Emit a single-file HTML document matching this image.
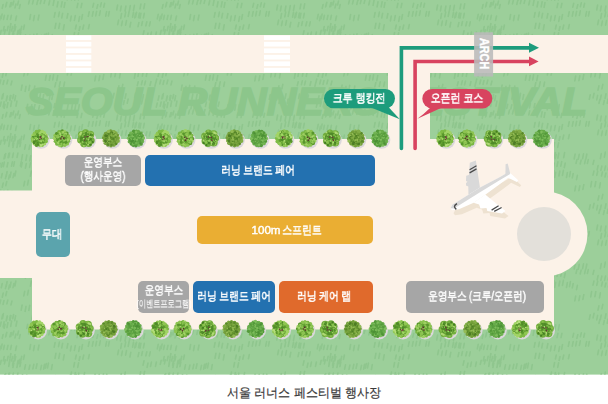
<!DOCTYPE html>
<html><head><meta charset="utf-8">
<style>
html,body{margin:0;padding:0;}
body{width:608px;height:404px;position:relative;overflow:hidden;background:#fff;font-family:"Liberation Sans",sans-serif;}
.a{position:absolute;}
.box{position:absolute;border-radius:5px;}
.t{position:absolute;color:#fff;font-weight:normal;font-size:12px;line-height:14px;white-space:nowrap;text-align:center;transform-origin:50% 50%;-webkit-font-smoothing:antialiased;will-change:transform;-webkit-text-stroke:0.55px #fff;}
.gray{background:#a6a6a6;}
.blue{background:#2371b0;}
</style></head>
<body>
<svg class="a" style="left:0;top:0" width="608" height="404" viewBox="0 0 608 404">
  <defs>
    <pattern id="grass" x="0" y="0" width="160" height="110" patternUnits="userSpaceOnUse"><path d="M6.5 3.0l-0.9 3.9M6.5 113.0l-0.9 3.9M10.8 2.9l-0.9 3.9M10.8 112.9l-0.9 3.9M13.8 1.1l-0.9 3.9M13.8 111.1l-0.9 3.9M18.5 1.1l-0.9 3.9M18.5 111.1l-0.9 3.9M29.5 -0.0l-0.9 3.9M29.5 110.0l-0.9 3.9M33.4 0.0l-0.9 3.9M33.4 110.0l-0.9 3.9M37.7 0.6l-0.9 3.9M37.7 110.6l-0.9 3.9M41.2 -0.3l-0.9 3.9M41.2 109.7l-0.9 3.9M45.0 -0.5l-0.9 3.9M45.0 109.5l-0.9 3.9M49.7 0.9l-0.9 3.9M49.7 110.9l-0.9 3.9M54.0 0.5l-0.9 4.9M54.0 110.5l-0.9 4.9M58.0 1.9l-0.9 4.9M58.0 111.9l-0.9 4.9M62.1 1.9l-0.9 4.9M62.1 111.9l-0.9 4.9M65.0 2.5l-0.9 4.9M65.0 112.5l-0.9 4.9M77.9 3.3l-0.9 4.3M77.9 113.3l-0.9 4.3M81.9 3.3l-0.9 4.3M81.9 113.3l-0.9 4.3M93.7 3.3l-0.9 3.8M93.7 113.3l-0.9 3.8M97.8 4.6l-0.9 3.8M97.8 114.6l-0.9 3.8M101.3 2.9l-0.9 3.8M101.3 112.9l-0.9 3.8M104.6 3.4l-0.9 3.8M104.6 113.4l-0.9 3.8M117.6 5.1l-0.9 4.9M117.6 115.1l-0.9 4.9M121.3 6.0l-0.9 4.9M121.3 116.0l-0.9 4.9M125.9 6.1l-0.9 4.9M130.3 5.6l-0.9 4.9M130.3 115.6l-0.9 4.9M134.4 5.4l-0.9 4.9M134.4 115.4l-0.9 4.9M140.9 4.0l-0.9 4.9M140.9 114.0l-0.9 4.9M144.7 3.8l-0.9 4.9M144.7 113.8l-0.9 4.9M163.1 4.5l-0.9 3.9M163.1 114.5l-0.9 3.9M3.1 4.5l-0.9 3.9M3.1 114.5l-0.9 3.9M6.8 2.4l-0.9 3.9M6.8 112.4l-0.9 3.9M11.6 2.6l-0.9 3.9M11.6 112.6l-0.9 3.9M15.9 4.0l-0.9 3.9M15.9 114.0l-0.9 3.9M20.2 4.6l-0.9 3.9M20.2 114.6l-0.9 3.9M0.4 16.4l-0.9 4.2M160.4 16.4l-0.9 4.2M4.4 15.3l-0.9 4.2M164.4 15.3l-0.9 4.2M8.0 15.3l-0.9 4.2M11.4 15.3l-0.9 4.2M16.5 16.1l-0.9 4.2M30.6 14.5l-0.9 5.0M34.4 15.6l-0.9 5.0M39.0 15.0l-0.9 5.0M55.1 12.5l-0.9 4.6M59.4 12.1l-0.9 4.6M62.6 13.4l-0.9 4.6M67.9 13.5l-0.9 4.6M71.3 16.0l-0.9 4.8M75.3 15.6l-0.9 4.8M79.6 16.6l-0.9 4.8M82.5 14.6l-0.9 4.8M89.2 11.9l-0.9 4.5M93.2 11.7l-0.9 4.5M96.6 11.4l-0.9 4.5M100.3 10.9l-0.9 4.5M106.6 11.7l-0.9 4.5M109.3 11.5l-0.9 4.5M121.6 13.5l-0.9 4.8M125.7 12.1l-0.9 4.8M129.1 11.5l-0.9 4.8M133.5 12.3l-0.9 4.8M136.5 12.3l-0.9 4.8M140.9 13.3l-0.9 4.8M135.6 13.5l-0.9 4.4M139.4 13.2l-0.9 4.4M144.3 13.4l-0.9 4.4M158.2 14.4l-0.9 4.5M-1.8 14.4l-0.9 4.5M162.1 14.1l-0.9 4.5M2.1 14.1l-0.9 4.5M10.9 23.5l-0.9 4.5M15.0 24.5l-0.9 4.5M55.9 23.3l-0.9 5.0M59.7 23.3l-0.9 5.0M64.2 24.9l-0.9 5.0M76.3 25.0l-0.9 4.0M80.0 26.5l-0.9 4.0M83.7 25.2l-0.9 4.0M89.3 24.7l-0.9 4.0M118.6 20.1l-0.9 4.6M122.4 21.1l-0.9 4.6M126.5 20.6l-0.9 4.6M130.8 22.4l-0.9 4.6M138.9 22.6l-0.9 4.0M142.5 21.5l-0.9 4.0M146.8 21.8l-0.9 4.0M150.3 21.8l-0.9 4.0M164.2 26.6l-0.9 4.3M4.2 26.6l-0.9 4.3M8.1 26.4l-0.9 4.3M12.5 26.7l-0.9 4.3M15.7 26.5l-0.9 4.3M21.7 26.4l-0.9 4.3M24.4 25.0l-0.9 4.3M9.6 32.0l-0.9 4.5M13.8 33.0l-0.9 4.5M17.8 33.0l-0.9 4.5M20.8 32.2l-0.9 4.5M25.5 34.8l-0.9 4.4M29.9 35.0l-0.9 4.4M33.8 34.4l-0.9 4.4M37.0 33.9l-0.9 4.4M41.5 35.3l-0.9 4.4M46.3 33.7l-0.9 4.4M44.5 34.3l-0.9 4.9M48.4 33.1l-0.9 4.9M52.3 34.6l-0.9 4.9M74.6 32.5l-0.9 4.5M78.6 32.9l-0.9 4.5M144.0 30.8l-0.9 4.4M148.0 33.0l-0.9 4.4M151.4 32.1l-0.9 4.4M156.4 32.0l-0.9 4.4M-3.6 32.0l-0.9 4.4M161.2 30.3l-0.9 4.0M1.2 30.3l-0.9 4.0M165.3 29.9l-0.9 4.0M5.3 29.9l-0.9 4.0M10.0 29.3l-0.9 4.0M13.5 31.1l-0.9 4.0M18.2 30.3l-0.9 4.0M19.9 29.4l-0.9 4.0M4.9 44.5l-0.9 4.3M164.9 44.5l-0.9 4.3M8.9 43.4l-0.9 4.3M13.4 43.2l-0.9 4.3M17.9 43.2l-0.9 4.3M22.5 44.7l-0.9 5.2M26.8 45.2l-0.9 5.2M30.7 45.8l-0.9 5.2M33.3 45.9l-0.9 5.2M55.5 45.7l-0.9 4.1M59.3 46.1l-0.9 4.1M63.0 46.1l-0.9 4.1M68.5 46.5l-0.9 4.1M70.3 44.9l-0.9 4.1M76.1 44.5l-0.9 4.1M71.5 42.0l-0.9 4.9M75.4 42.5l-0.9 4.9M78.8 43.2l-0.9 4.9M84.6 42.7l-0.9 4.9M95.1 44.2l-0.9 4.8M99.2 44.4l-0.9 4.8M103.5 43.9l-0.9 4.8M106.8 44.1l-0.9 4.8M121.3 43.7l-0.9 5.0M125.3 42.1l-0.9 5.0M140.6 41.9l-0.9 4.4M144.6 41.4l-0.9 4.4M165.7 43.5l-0.9 4.6M5.7 43.5l-0.9 4.6M9.6 43.0l-0.9 4.6M0.1 53.4l-0.9 4.4M160.1 53.4l-0.9 4.4M4.3 52.2l-0.9 4.4M164.3 52.2l-0.9 4.4M7.9 52.6l-0.9 4.4M12.4 51.8l-0.9 4.4M14.5 51.8l-0.9 4.4M21.3 51.6l-0.9 4.4M22.2 52.5l-0.9 4.5M26.3 53.7l-0.9 4.5M30.5 52.8l-0.9 4.5M34.5 53.6l-0.9 4.5M44.7 53.6l-0.9 3.9M48.6 54.3l-0.9 3.9M52.0 53.5l-0.9 3.9M74.2 53.0l-0.9 4.5M77.9 51.8l-0.9 4.5M81.7 51.7l-0.9 4.5M85.2 53.1l-0.9 4.5M96.9 49.6l-0.9 3.9M101.1 50.1l-0.9 3.9M105.5 49.7l-0.9 3.9M108.3 49.6l-0.9 3.9M113.9 50.4l-0.9 3.9M118.1 55.6l-0.9 4.2M121.8 56.1l-0.9 4.2M125.5 56.2l-0.9 4.2M129.0 55.8l-0.9 4.2M137.5 54.5l-0.9 3.9M141.2 54.7l-0.9 3.9M145.4 54.3l-0.9 3.9M150.5 54.6l-0.9 3.9M158.4 52.2l-0.9 4.3M-1.6 52.2l-0.9 4.3M162.3 52.9l-0.9 4.3M2.3 52.9l-0.9 4.3M7.1 61.5l-0.9 5.0M11.0 62.2l-0.9 5.0M15.8 61.0l-0.9 5.0M31.3 61.2l-0.9 5.0M35.2 59.4l-0.9 5.0M39.7 60.0l-0.9 5.0M43.1 60.6l-0.9 5.0M46.8 60.9l-0.9 5.0M51.3 60.8l-0.9 5.0M52.8 60.8l-0.9 4.8M56.6 62.5l-0.9 4.8M61.3 60.9l-0.9 4.8M65.3 62.2l-0.9 4.8M68.2 62.1l-0.9 4.8M74.0 60.8l-0.9 4.8M75.6 62.4l-0.9 5.0M79.8 61.0l-0.9 5.0M83.4 60.4l-0.9 5.0M87.4 62.5l-0.9 5.0M90.4 61.6l-0.9 5.0M93.2 63.5l-0.9 4.4M97.4 65.3l-0.9 4.4M113.9 61.1l-0.9 4.0M117.7 61.3l-0.9 4.0M122.4 62.0l-0.9 4.0M125.9 63.0l-0.9 4.0M129.3 62.9l-0.9 4.0M135.0 61.9l-0.9 4.0M137.3 64.2l-0.9 3.9M140.9 66.3l-0.9 3.9M144.8 66.1l-0.9 3.9M148.3 65.0l-0.9 3.9M152.4 65.9l-0.9 3.9M158.0 64.3l-0.9 4.0M-2.0 64.3l-0.9 4.0M162.2 63.7l-0.9 4.0M2.2 63.7l-0.9 4.0M6.3 64.6l-0.9 4.0M9.5 65.0l-0.9 4.0M13.9 63.6l-0.9 4.0M24.7 71.3l-0.9 4.6M28.4 70.4l-0.9 4.6M46.3 75.3l-0.9 4.9M50.2 75.5l-0.9 4.9M53.6 74.9l-0.9 4.9M57.7 75.7l-0.9 4.9M68.2 70.7l-0.9 4.3M72.0 70.9l-0.9 4.3M95.7 76.0l-0.9 4.8M99.8 75.9l-0.9 4.8M103.8 74.6l-0.9 4.8M111.6 71.7l-0.9 5.1M115.8 71.5l-0.9 5.1M120.4 72.8l-0.9 5.1M135.3 73.0l-0.9 5.1M138.9 71.2l-0.9 5.1M143.3 71.0l-0.9 5.1M147.2 71.3l-0.9 5.1M159.0 72.1l-0.9 4.2M-1.0 72.1l-0.9 4.2M163.2 73.0l-0.9 4.2M3.2 73.0l-0.9 4.2M6.7 71.5l-0.9 4.2M22.1 85.0l-0.9 5.1M26.0 86.4l-0.9 5.1M29.7 85.4l-0.9 5.1M34.8 86.0l-0.9 5.1M55.8 82.5l-0.9 4.4M60.2 81.9l-0.9 4.4M64.6 82.1l-0.9 4.4M118.9 85.8l-0.9 4.4M122.8 84.4l-0.9 4.4M138.2 81.8l-0.9 3.8M142.3 80.9l-0.9 3.8M145.5 81.0l-0.9 3.8M150.9 81.7l-0.9 3.8M155.8 82.4l-0.9 3.8M-4.2 82.4l-0.9 3.8M156.7 79.2l-0.9 3.8M-3.3 79.2l-0.9 3.8M160.7 80.0l-0.9 3.8M0.7 80.0l-0.9 3.8M164.0 80.5l-0.9 3.8M4.0 80.5l-0.9 3.8M7.8 80.0l-0.9 3.8M11.9 81.1l-0.9 3.8M3.4 93.7l-0.9 4.8M163.4 93.7l-0.9 4.8M7.1 96.1l-0.9 4.8M10.9 95.5l-0.9 4.8M15.6 95.9l-0.9 4.8M32.8 94.2l-0.9 4.9M37.1 94.3l-0.9 4.9M40.5 93.4l-0.9 4.9M43.7 94.5l-0.9 4.9M50.1 95.1l-0.9 4.9M52.7 94.6l-0.9 4.9M110.2 94.8l-0.9 4.5M114.0 93.4l-0.9 4.5M117.6 95.3l-0.9 4.5M121.2 95.1l-0.9 4.5M126.0 93.9l-0.9 4.5M135.6 93.2l-0.9 4.4M139.5 94.0l-0.9 4.4M143.5 94.8l-0.9 4.4M148.4 95.0l-0.9 4.4M159.0 95.9l-0.9 4.2M-1.0 95.9l-0.9 4.2M162.7 94.7l-0.9 4.2M2.7 94.7l-0.9 4.2M7.4 96.2l-0.9 4.2M10.4 95.5l-0.9 4.2M13.6 94.5l-0.9 4.2M4.1 101.9l-0.9 5.1M164.1 101.9l-0.9 5.1M7.9 102.5l-0.9 5.1M11.6 101.2l-0.9 5.1M16.9 101.1l-0.9 5.1M27.7 104.3l-0.9 4.1M27.7 -5.7l-0.9 4.1M31.8 104.8l-0.9 4.1M31.8 -5.2l-0.9 4.1M35.0 104.5l-0.9 4.1M35.0 -5.5l-0.9 4.1M39.5 105.7l-0.9 4.1M39.5 -4.3l-0.9 4.1M46.4 102.2l-0.9 4.1M50.4 103.8l-0.9 4.1M54.9 103.5l-0.9 4.1M59.1 102.0l-0.9 4.1M68.1 104.6l-0.9 5.2M68.1 -5.4l-0.9 5.2M72.4 104.7l-0.9 5.2M72.4 -5.3l-0.9 5.2M75.7 104.9l-0.9 5.2M75.7 -5.1l-0.9 5.2M79.3 104.7l-0.9 5.2M79.3 -5.3l-0.9 5.2M119.9 99.3l-0.9 4.0M124.3 100.5l-0.9 4.0M128.1 99.2l-0.9 4.0M142.4 99.8l-0.9 4.1M146.5 99.4l-0.9 4.1M157.2 103.2l-0.9 3.9M-2.8 103.2l-0.9 3.9M161.1 102.2l-0.9 3.9M1.1 102.2l-0.9 3.9M165.0 104.3l-0.9 3.9M165.0 -5.7l-0.9 3.9M5.0 104.3l-0.9 3.9M5.0 -5.7l-0.9 3.9" stroke="#8fc68e" stroke-width="1.7" stroke-linecap="round" fill="none"/></pattern>
<symbol id="tA" overflow="visible"><circle r="8.2" fill="#5f9e30"/><circle cx="7.4" cy="-0.1" r="1.7" fill="#7fbb45"/><circle cx="6.9" cy="2.8" r="1.8" fill="#a2d466"/><circle cx="5.6" cy="4.9" r="1.7" fill="#a2d466"/><circle cx="3.4" cy="6.6" r="1.6" fill="#8fc652"/><circle cx="-0.1" cy="7.4" r="1.8" fill="#8fc652"/><circle cx="-3.0" cy="6.8" r="1.6" fill="#7fbb45"/><circle cx="-5.4" cy="5.1" r="1.7" fill="#a2d466"/><circle cx="-6.9" cy="2.7" r="1.8" fill="#8fc652"/><circle cx="-7.4" cy="0.7" r="1.5" fill="#a2d466"/><circle cx="-6.8" cy="-3.0" r="1.8" fill="#5a962c"/><circle cx="-5.3" cy="-5.2" r="1.8" fill="#a2d466"/><circle cx="-2.6" cy="-6.9" r="1.6" fill="#8fc652"/><circle cx="-0.1" cy="-7.4" r="1.5" fill="#8fc652"/><circle cx="3.1" cy="-6.7" r="1.6" fill="#a2d466"/><circle cx="5.2" cy="-5.2" r="1.4" fill="#8fc652"/><circle cx="6.8" cy="-3.0" r="1.8" fill="#7fbb45"/><circle cx="0.8" cy="0.4" r="1.1" fill="#a2d466"/><circle cx="1.7" cy="6.6" r="1.0" fill="#4e8a26"/><circle cx="-1.5" cy="1.2" r="1.1" fill="#4e8a26"/><circle cx="-0.3" cy="2.1" r="0.9" fill="#7fbb45"/><circle cx="0.1" cy="-2.4" r="0.8" fill="#8fc652"/><circle cx="4.8" cy="0.3" r="1.0" fill="#4e8a26"/><circle cx="-4.4" cy="-1.7" r="0.8" fill="#4e8a26"/><circle cx="0.6" cy="-4.6" r="0.9" fill="#7fbb45"/><circle cx="-2.9" cy="1.6" r="0.8" fill="#b5de7a"/><circle cx="-2.2" cy="6.3" r="0.8" fill="#7fbb45"/><circle cx="5.5" cy="-0.1" r="1.1" fill="#8fc652"/><circle cx="3.3" cy="-0.2" r="0.8" fill="#b5de7a"/><circle cx="-1.8" cy="3.4" r="0.7" fill="#8fc652"/><circle cx="1.5" cy="5.5" r="0.6" fill="#5a962c"/><circle cx="-3.3" cy="3.4" r="1.4" fill="#7fbb45"/><circle cx="1.3" cy="-2.3" r="0.9" fill="#4e8a26"/><circle cx="3.8" cy="5.6" r="1.3" fill="#a2d466"/><circle cx="-0.4" cy="-2.8" r="1.1" fill="#b5de7a"/><circle cx="2.3" cy="6.5" r="1.3" fill="#b5de7a"/><circle cx="1.4" cy="0.7" r="0.7" fill="#b5de7a"/><circle cx="3.4" cy="-0.8" r="1.2" fill="#5a962c"/><circle cx="-5.9" cy="3.2" r="1.0" fill="#b5de7a"/><circle cx="2.7" cy="5.4" r="0.7" fill="#a2d466"/><circle cx="-5.7" cy="0.7" r="1.1" fill="#8fc652"/><circle cx="-1.3" cy="6.7" r="0.8" fill="#8fc652"/><circle cx="4.1" cy="1.9" r="0.8" fill="#8fc652"/><circle cx="1.9" cy="3.9" r="1.1" fill="#a2d466"/><circle cx="2.2" cy="1.4" r="1.0" fill="#5a962c"/><circle cx="-3.3" cy="-4.9" r="1.1" fill="#a2d466"/><circle cx="-5.8" cy="-3.7" r="1.0" fill="#5a962c"/><circle cx="-2.1" cy="-6.6" r="0.6" fill="#4e8a26"/><circle cx="1.6" cy="0.8" r="0.8" fill="#a2d466"/><circle cx="1.9" cy="-0.0" r="1.0" fill="#4e8a26"/><circle cx="6.6" cy="1.9" r="1.2" fill="#a2d466"/><circle cx="1.8" cy="-6.5" r="0.9" fill="#4e8a26"/><circle cx="-2.0" cy="0.3" r="1.3" fill="#8fc652"/><circle cx="3.5" cy="-4.1" r="1.1" fill="#7fbb45"/><circle cx="-0.6" cy="0.5" r="0.7" fill="#8fc652"/><circle cx="-4.5" cy="-5.4" r="1.3" fill="#4e8a26"/><circle cx="-3.3" cy="6.0" r="1.2" fill="#7fbb45"/><circle cx="-6.1" cy="2.4" r="0.7" fill="#b5de7a"/><circle cx="5.4" cy="1.0" r="1.0" fill="#a2d466"/><circle cx="2.3" cy="-0.6" r="1.2" fill="#4e8a26"/><circle cx="3.2" cy="-1.7" r="0.6" fill="#5a962c"/><circle cx="3.5" cy="4.3" r="1.0" fill="#5a962c"/><circle cx="-2.5" cy="-4.0" r="1.3" fill="#5a962c"/><circle cx="-2.9" cy="2.0" r="1.1" fill="#a2d466"/><circle cx="3.2" cy="-3.0" r="1.1" fill="#5a962c"/><circle cx="0.6" cy="2.5" r="0.9" fill="#8fc652"/><circle cx="-1.7" cy="-6.7" r="0.8" fill="#a2d466"/><circle cx="3.7" cy="3.2" r="1.3" fill="#7fbb45"/><circle cx="-3.8" cy="3.4" r="1.1" fill="#4e8a26"/><circle cx="3.7" cy="-6.0" r="1.0" fill="#8fc652"/><circle cx="1.8" cy="-3.3" r="1.1" fill="#4e8a26"/><circle cx="-1.4" cy="-5.2" r="0.8" fill="#b5de7a"/><circle cx="2.6" cy="0.3" r="1.0" fill="#8fc652"/><circle cx="0.4" cy="-3.6" r="1.2" fill="#8fc652"/><circle cx="2.4" cy="-0.2" r="0.7" fill="#b5de7a"/><circle cx="-3.6" cy="-5.3" r="1.4" fill="#4e8a26"/><circle cx="2.1" cy="6.1" r="0.8" fill="#4e8a26"/><circle cx="4.9" cy="0.3" r="1.2" fill="#a2d466"/><circle cx="0.9" cy="6.2" r="1.0" fill="#b5de7a"/><circle cx="-7.1" cy="-0.0" r="0.7" fill="#4e8a26"/><circle cx="1.7" cy="-1.2" r="1.3" fill="#4e8a26"/><circle cx="-3.6" cy="3.1" r="0.8" fill="#8fc652"/><circle cx="-3.8" cy="3.7" r="1.3" fill="#5a962c"/><circle cx="-5.6" cy="1.3" r="0.8" fill="#4e8a26"/><circle cx="4.2" cy="-4.7" r="1.3" fill="#8fc652"/><circle cx="1.5" cy="6.6" r="1.4" fill="#5a962c"/><circle cx="-6.1" cy="-1.5" r="0.9" fill="#4e8a26"/><circle cx="2.6" cy="-3.3" r="0.7" fill="#7fbb45"/><circle cx="-2.5" cy="3.9" r="0.8" fill="#8fc652"/><circle cx="1.3" cy="6.5" r="0.9" fill="#8fc652"/><circle cx="1.9" cy="3.6" r="1.2" fill="#a2d466"/><circle cx="-7.0" cy="1.3" r="1.3" fill="#b5de7a"/><circle cx="1.4" cy="0.9" r="0.9" fill="#6b2f3a"/><circle cx="-0.0" cy="1.8" r="0.6" fill="#6b2f3a"/><circle cx="-1.1" cy="0.3" r="0.7" fill="#6b2f3a"/></symbol>
<symbol id="tB" overflow="visible"><circle r="8.2" fill="#62a232"/><circle cx="7.4" cy="0.3" r="1.7" fill="#58952c"/><circle cx="6.9" cy="2.6" r="1.6" fill="#9fd062"/><circle cx="5.4" cy="5.0" r="1.5" fill="#58952c"/><circle cx="2.7" cy="6.9" r="1.5" fill="#8cc350"/><circle cx="-0.0" cy="7.4" r="1.7" fill="#8cc350"/><circle cx="-2.9" cy="6.8" r="1.4" fill="#7ab744"/><circle cx="-5.3" cy="5.2" r="1.9" fill="#8cc350"/><circle cx="-6.8" cy="2.8" r="1.7" fill="#8cc350"/><circle cx="-7.4" cy="-0.6" r="1.6" fill="#7ab744"/><circle cx="-7.0" cy="-2.5" r="1.6" fill="#9fd062"/><circle cx="-5.4" cy="-5.1" r="1.9" fill="#7ab744"/><circle cx="-2.8" cy="-6.9" r="1.5" fill="#7ab744"/><circle cx="0.2" cy="-7.4" r="1.9" fill="#9fd062"/><circle cx="3.1" cy="-6.7" r="1.9" fill="#8cc350"/><circle cx="4.9" cy="-5.5" r="1.5" fill="#58952c"/><circle cx="6.7" cy="-3.1" r="1.6" fill="#7ab744"/><circle cx="4.8" cy="3.7" r="0.7" fill="#afd974"/><circle cx="-4.3" cy="-4.2" r="1.2" fill="#7ab744"/><circle cx="5.6" cy="0.8" r="1.3" fill="#afd974"/><circle cx="1.7" cy="2.7" r="1.1" fill="#9fd062"/><circle cx="-6.4" cy="-1.2" r="1.1" fill="#9fd062"/><circle cx="0.7" cy="6.1" r="1.2" fill="#9fd062"/><circle cx="-1.6" cy="3.6" r="1.3" fill="#9fd062"/><circle cx="0.6" cy="-3.1" r="0.7" fill="#9fd062"/><circle cx="1.4" cy="1.6" r="0.9" fill="#7ab744"/><circle cx="2.3" cy="-4.0" r="1.2" fill="#9fd062"/><circle cx="1.7" cy="5.4" r="1.2" fill="#8cc350"/><circle cx="1.8" cy="5.6" r="1.3" fill="#58952c"/><circle cx="3.8" cy="3.3" r="1.2" fill="#afd974"/><circle cx="6.5" cy="-0.1" r="1.2" fill="#7ab744"/><circle cx="1.1" cy="0.8" r="1.0" fill="#afd974"/><circle cx="4.1" cy="-2.8" r="0.8" fill="#8cc350"/><circle cx="1.9" cy="6.2" r="1.4" fill="#8cc350"/><circle cx="-2.3" cy="-1.3" r="1.1" fill="#8cc350"/><circle cx="0.4" cy="-4.0" r="1.0" fill="#afd974"/><circle cx="-2.0" cy="2.6" r="0.9" fill="#8cc350"/><circle cx="1.7" cy="-2.5" r="1.0" fill="#58952c"/><circle cx="-2.6" cy="1.8" r="0.7" fill="#afd974"/><circle cx="1.1" cy="-3.9" r="0.7" fill="#7ab744"/><circle cx="-2.8" cy="-1.3" r="1.1" fill="#58952c"/><circle cx="1.2" cy="-3.4" r="1.3" fill="#9fd062"/><circle cx="1.8" cy="-4.2" r="1.3" fill="#afd974"/><circle cx="-2.1" cy="-5.8" r="1.2" fill="#7ab744"/><circle cx="0.8" cy="2.9" r="1.2" fill="#58952c"/><circle cx="-0.7" cy="0.1" r="0.9" fill="#afd974"/><circle cx="3.5" cy="1.1" r="1.4" fill="#58952c"/><circle cx="-3.0" cy="4.9" r="1.1" fill="#afd974"/><circle cx="4.5" cy="2.4" r="1.0" fill="#9fd062"/><circle cx="-1.9" cy="-5.9" r="1.4" fill="#8cc350"/><circle cx="1.8" cy="1.5" r="0.8" fill="#7ab744"/><circle cx="-1.3" cy="0.9" r="0.8" fill="#7ab744"/><circle cx="3.6" cy="0.2" r="0.8" fill="#58952c"/><circle cx="-4.8" cy="-1.6" r="1.4" fill="#afd974"/><circle cx="1.3" cy="-1.8" r="1.0" fill="#8cc350"/><circle cx="-5.5" cy="-1.8" r="1.4" fill="#7ab744"/><circle cx="2.6" cy="-1.2" r="1.0" fill="#9fd062"/><circle cx="3.2" cy="-4.1" r="1.1" fill="#7ab744"/><circle cx="4.3" cy="-1.6" r="1.0" fill="#afd974"/><circle cx="-2.0" cy="4.8" r="1.0" fill="#58952c"/><circle cx="-3.5" cy="-1.4" r="1.2" fill="#58952c"/><circle cx="6.2" cy="1.0" r="1.1" fill="#9fd062"/><circle cx="-4.9" cy="3.2" r="0.6" fill="#58952c"/><circle cx="-0.0" cy="-1.6" r="1.4" fill="#58952c"/><circle cx="6.0" cy="3.0" r="0.9" fill="#7ab744"/><circle cx="-0.0" cy="6.2" r="0.6" fill="#8cc350"/><circle cx="5.6" cy="-2.3" r="1.0" fill="#9fd062"/><circle cx="-1.9" cy="-1.5" r="1.1" fill="#7ab744"/><circle cx="4.9" cy="4.4" r="0.9" fill="#9fd062"/><circle cx="3.4" cy="3.3" r="1.1" fill="#7ab744"/><circle cx="-4.6" cy="-3.4" r="1.1" fill="#58952c"/><circle cx="0.9" cy="-5.1" r="1.4" fill="#58952c"/><circle cx="-0.3" cy="-3.4" r="0.7" fill="#58952c"/><circle cx="1.2" cy="-5.5" r="0.9" fill="#58952c"/><circle cx="-4.7" cy="-3.8" r="1.2" fill="#9fd062"/><circle cx="-4.1" cy="-4.6" r="0.8" fill="#9fd062"/><circle cx="-5.7" cy="-0.1" r="0.8" fill="#8cc350"/><circle cx="-0.5" cy="-0.5" r="0.8" fill="#8cc350"/><circle cx="-1.6" cy="-1.6" r="1.0" fill="#8cc350"/><circle cx="0.2" cy="-6.8" r="0.7" fill="#9fd062"/><circle cx="-2.9" cy="-3.2" r="1.0" fill="#9fd062"/><circle cx="-2.6" cy="4.2" r="0.7" fill="#8cc350"/><circle cx="1.5" cy="-4.5" r="1.3" fill="#9fd062"/><circle cx="-5.8" cy="2.1" r="0.9" fill="#9fd062"/><circle cx="-3.9" cy="4.2" r="1.4" fill="#58952c"/><circle cx="-1.6" cy="6.0" r="1.3" fill="#9fd062"/><circle cx="-3.9" cy="1.9" r="0.7" fill="#58952c"/><circle cx="1.8" cy="1.0" r="1.1" fill="#7ab744"/><circle cx="1.9" cy="-4.4" r="1.3" fill="#8cc350"/><circle cx="2.9" cy="1.5" r="1.1" fill="#8cc350"/><circle cx="-1.7" cy="-4.7" r="1.2" fill="#58952c"/><circle cx="-0.6" cy="2.6" r="0.9" fill="#58952c"/><circle cx="-0.5" cy="-1.1" r="0.8" fill="#5e2a30"/><circle cx="0.3" cy="1.7" r="0.9" fill="#5e2a30"/><circle cx="1.7" cy="0.0" r="0.8" fill="#5e2a30"/></symbol>
<symbol id="tC" overflow="visible"><circle cx="5.6" cy="-0.4" r="3.6" fill="#72ad3e"/><circle cx="3.7" cy="4.2" r="4.0" fill="#72ad3e"/><circle cx="-2.1" cy="5.2" r="3.5" fill="#72ad3e"/><circle cx="-4.9" cy="2.7" r="3.6" fill="#72ad3e"/><circle cx="-5.2" cy="-2.2" r="3.6" fill="#72ad3e"/><circle cx="-1.5" cy="-5.4" r="3.5" fill="#72ad3e"/><circle cx="3.6" cy="-4.3" r="3.9" fill="#72ad3e"/><circle r="6" fill="#4f8a28"/><circle cx="-6.9" cy="-1.8" r="1.1" fill="#a0d264"/><circle cx="4.4" cy="2.8" r="1.3" fill="#8ac24e"/><circle cx="0.3" cy="1.8" r="0.7" fill="#53902a"/><circle cx="6.2" cy="-1.3" r="1.2" fill="#8ac24e"/><circle cx="-3.8" cy="-2.1" r="1.0" fill="#53902a"/><circle cx="5.8" cy="3.3" r="1.3" fill="#8ac24e"/><circle cx="6.2" cy="1.0" r="0.7" fill="#447d22"/><circle cx="-5.8" cy="3.1" r="1.0" fill="#b0da76"/><circle cx="-2.8" cy="4.5" r="0.9" fill="#53902a"/><circle cx="-2.6" cy="-4.8" r="1.0" fill="#447d22"/><circle cx="5.5" cy="2.7" r="0.6" fill="#447d22"/><circle cx="-0.3" cy="0.4" r="0.9" fill="#8ac24e"/><circle cx="5.8" cy="-4.9" r="1.1" fill="#b0da76"/><circle cx="-0.5" cy="0.6" r="0.7" fill="#79b542"/><circle cx="3.3" cy="-2.0" r="0.7" fill="#447d22"/><circle cx="-2.3" cy="2.3" r="0.8" fill="#79b542"/><circle cx="-4.0" cy="-0.7" r="1.3" fill="#79b542"/><circle cx="-0.9" cy="2.5" r="1.1" fill="#a0d264"/><circle cx="5.8" cy="-3.5" r="0.6" fill="#79b542"/><circle cx="1.3" cy="-0.8" r="0.7" fill="#a0d264"/><circle cx="-3.8" cy="4.6" r="1.1" fill="#79b542"/><circle cx="-3.1" cy="-2.1" r="0.7" fill="#53902a"/><circle cx="-6.1" cy="4.3" r="1.3" fill="#447d22"/><circle cx="-6.7" cy="-2.1" r="1.0" fill="#53902a"/><circle cx="-4.9" cy="0.5" r="1.4" fill="#447d22"/><circle cx="-7.3" cy="-2.2" r="1.0" fill="#a0d264"/><circle cx="-2.9" cy="2.1" r="0.7" fill="#79b542"/><circle cx="6.9" cy="-1.0" r="1.2" fill="#8ac24e"/><circle cx="-2.1" cy="-3.2" r="0.6" fill="#79b542"/><circle cx="4.3" cy="-2.9" r="0.8" fill="#79b542"/><circle cx="-2.4" cy="-1.9" r="0.7" fill="#53902a"/><circle cx="4.6" cy="5.9" r="1.2" fill="#a0d264"/><circle cx="-5.1" cy="-5.9" r="0.8" fill="#b0da76"/><circle cx="5.6" cy="1.9" r="0.7" fill="#a0d264"/><circle cx="3.1" cy="-6.5" r="1.3" fill="#8ac24e"/><circle cx="-3.6" cy="4.9" r="1.0" fill="#79b542"/><circle cx="-0.8" cy="-2.1" r="1.2" fill="#b0da76"/><circle cx="2.7" cy="-3.4" r="1.2" fill="#79b542"/><circle cx="2.3" cy="6.0" r="1.2" fill="#79b542"/><circle cx="1.5" cy="5.6" r="1.0" fill="#a0d264"/><circle cx="7.2" cy="-2.5" r="0.9" fill="#79b542"/><circle cx="3.8" cy="2.0" r="1.0" fill="#447d22"/><circle cx="1.9" cy="0.9" r="0.7" fill="#447d22"/><circle cx="-4.2" cy="3.3" r="1.4" fill="#8ac24e"/><circle cx="-0.5" cy="-0.7" r="0.9" fill="#447d22"/><circle cx="-4.2" cy="0.7" r="0.7" fill="#8ac24e"/><circle cx="4.4" cy="-5.6" r="1.2" fill="#b0da76"/><circle cx="3.6" cy="5.0" r="1.3" fill="#447d22"/><circle cx="-1.4" cy="4.3" r="0.9" fill="#447d22"/><circle cx="2.9" cy="1.8" r="0.9" fill="#8ac24e"/><circle cx="-3.6" cy="6.7" r="1.1" fill="#447d22"/><circle cx="-3.3" cy="-4.0" r="0.9" fill="#8ac24e"/><circle cx="1.5" cy="1.9" r="1.1" fill="#447d22"/><circle cx="1.5" cy="3.1" r="0.6" fill="#79b542"/><circle cx="-2.0" cy="-1.3" r="0.8" fill="#a0d264"/><circle cx="5.1" cy="-0.4" r="1.2" fill="#53902a"/><circle cx="4.5" cy="-2.4" r="1.0" fill="#447d22"/><circle cx="0.8" cy="2.9" r="1.2" fill="#79b542"/><circle cx="-2.5" cy="4.4" r="0.6" fill="#79b542"/><circle cx="-3.3" cy="-2.9" r="1.2" fill="#a0d264"/><circle cx="-3.3" cy="-5.1" r="0.6" fill="#53902a"/><circle cx="1.6" cy="4.0" r="1.0" fill="#b0da76"/><circle cx="-4.0" cy="3.9" r="1.2" fill="#8ac24e"/><circle cx="-2.4" cy="-2.0" r="1.2" fill="#53902a"/><circle cx="-4.4" cy="-1.4" r="1.0" fill="#a0d264"/><circle cx="-3.1" cy="-1.6" r="1.3" fill="#447d22"/><circle cx="-2.0" cy="-7.3" r="1.1" fill="#8ac24e"/><circle cx="-2.4" cy="-2.5" r="0.7" fill="#a0d264"/><circle cx="-5.0" cy="0.7" r="0.9" fill="#8ac24e"/><circle cx="4.2" cy="-2.0" r="1.0" fill="#8ac24e"/><circle cx="-6.4" cy="2.0" r="0.8" fill="#b0da76"/><circle cx="-5.6" cy="-1.6" r="1.0" fill="#53902a"/><circle cx="3.3" cy="5.9" r="1.3" fill="#53902a"/><circle cx="-2.2" cy="-1.6" r="1.3" fill="#53902a"/><circle cx="-1.9" cy="-4.3" r="1.2" fill="#53902a"/><circle cx="1.3" cy="-0.9" r="0.8" fill="#6b2f3a"/><circle cx="-1.7" cy="-1.4" r="0.7" fill="#6b2f3a"/><circle cx="1.9" cy="1.8" r="0.8" fill="#6b2f3a"/></symbol>
<symbol id="tD" overflow="visible"><circle r="8.2" fill="#64932f"/><circle cx="7.4" cy="-0.3" r="1.7" fill="#749f3b"/><circle cx="6.8" cy="3.0" r="1.7" fill="#82ad46"/><circle cx="5.6" cy="4.9" r="1.6" fill="#82ad46"/><circle cx="3.3" cy="6.6" r="1.6" fill="#749f3b"/><circle cx="0.5" cy="7.4" r="1.7" fill="#93bb55"/><circle cx="-2.5" cy="7.0" r="1.9" fill="#82ad46"/><circle cx="-5.4" cy="5.1" r="1.4" fill="#5a8a2a"/><circle cx="-6.8" cy="3.0" r="1.6" fill="#82ad46"/><circle cx="-7.4" cy="0.0" r="1.6" fill="#749f3b"/><circle cx="-6.7" cy="-3.2" r="1.6" fill="#749f3b"/><circle cx="-4.9" cy="-5.6" r="1.8" fill="#749f3b"/><circle cx="-2.4" cy="-7.0" r="1.5" fill="#82ad46"/><circle cx="0.6" cy="-7.4" r="1.7" fill="#749f3b"/><circle cx="2.7" cy="-6.9" r="1.4" fill="#82ad46"/><circle cx="5.0" cy="-5.4" r="1.7" fill="#749f3b"/><circle cx="7.0" cy="-2.5" r="1.7" fill="#93bb55"/><circle cx="4.9" cy="-4.5" r="0.8" fill="#749f3b"/><circle cx="0.3" cy="6.6" r="1.4" fill="#749f3b"/><circle cx="-1.7" cy="-4.8" r="0.8" fill="#93bb55"/><circle cx="-3.8" cy="-5.7" r="1.3" fill="#93bb55"/><circle cx="3.1" cy="-3.4" r="1.2" fill="#5a8a2a"/><circle cx="-2.7" cy="-3.7" r="0.7" fill="#82ad46"/><circle cx="5.1" cy="3.7" r="0.7" fill="#4e7d25"/><circle cx="-4.2" cy="-2.2" r="0.8" fill="#93bb55"/><circle cx="2.9" cy="0.4" r="1.0" fill="#749f3b"/><circle cx="1.8" cy="-4.1" r="0.9" fill="#4e7d25"/><circle cx="0.5" cy="3.9" r="1.0" fill="#93bb55"/><circle cx="-1.8" cy="4.7" r="1.3" fill="#749f3b"/><circle cx="2.3" cy="-2.2" r="1.3" fill="#82ad46"/><circle cx="2.2" cy="6.1" r="0.9" fill="#749f3b"/><circle cx="5.6" cy="0.6" r="1.2" fill="#4e7d25"/><circle cx="1.7" cy="5.4" r="0.8" fill="#82ad46"/><circle cx="-2.3" cy="-3.2" r="1.3" fill="#93bb55"/><circle cx="4.1" cy="-4.4" r="0.7" fill="#749f3b"/><circle cx="-2.5" cy="1.5" r="1.3" fill="#82ad46"/><circle cx="-0.8" cy="-3.1" r="0.7" fill="#5a8a2a"/><circle cx="-3.9" cy="-0.0" r="0.8" fill="#4e7d25"/><circle cx="4.1" cy="-3.6" r="0.8" fill="#93bb55"/><circle cx="2.4" cy="-1.8" r="0.8" fill="#5a8a2a"/><circle cx="-1.4" cy="-1.6" r="1.4" fill="#749f3b"/><circle cx="1.7" cy="-1.0" r="1.3" fill="#82ad46"/><circle cx="-3.1" cy="-2.2" r="0.8" fill="#4e7d25"/><circle cx="3.2" cy="2.0" r="1.2" fill="#5a8a2a"/><circle cx="2.6" cy="5.5" r="0.6" fill="#5a8a2a"/><circle cx="1.3" cy="-0.1" r="1.0" fill="#4e7d25"/><circle cx="-5.1" cy="4.5" r="1.0" fill="#5a8a2a"/><circle cx="5.8" cy="2.5" r="1.3" fill="#93bb55"/><circle cx="-3.4" cy="-5.3" r="1.0" fill="#4e7d25"/><circle cx="2.6" cy="-5.0" r="1.4" fill="#4e7d25"/><circle cx="2.9" cy="5.6" r="0.7" fill="#4e7d25"/><circle cx="-5.3" cy="2.3" r="1.0" fill="#93bb55"/><circle cx="1.4" cy="-6.1" r="0.8" fill="#749f3b"/><circle cx="-6.3" cy="-1.8" r="1.1" fill="#93bb55"/><circle cx="5.4" cy="1.2" r="1.2" fill="#4e7d25"/><circle cx="-6.3" cy="2.1" r="0.9" fill="#4e7d25"/><circle cx="5.0" cy="0.6" r="0.9" fill="#749f3b"/><circle cx="-1.1" cy="-6.5" r="0.6" fill="#82ad46"/><circle cx="4.5" cy="-2.9" r="1.0" fill="#5a8a2a"/><circle cx="-1.2" cy="-1.2" r="0.9" fill="#93bb55"/><circle cx="2.6" cy="-5.5" r="1.2" fill="#4e7d25"/><circle cx="-5.7" cy="0.1" r="1.0" fill="#749f3b"/><circle cx="-0.1" cy="2.8" r="1.2" fill="#4e7d25"/><circle cx="0.4" cy="-1.7" r="0.9" fill="#93bb55"/><circle cx="-1.9" cy="-5.6" r="1.4" fill="#5a8a2a"/><circle cx="-6.2" cy="0.4" r="1.4" fill="#5a8a2a"/><circle cx="-0.2" cy="-5.1" r="1.4" fill="#82ad46"/><circle cx="0.4" cy="6.7" r="0.7" fill="#749f3b"/><circle cx="-4.6" cy="-1.7" r="1.3" fill="#82ad46"/><circle cx="-2.6" cy="-5.4" r="1.4" fill="#4e7d25"/><circle cx="0.5" cy="3.5" r="1.0" fill="#5a8a2a"/><circle cx="-1.8" cy="1.0" r="0.8" fill="#93bb55"/><circle cx="-3.7" cy="6.0" r="1.1" fill="#82ad46"/><circle cx="2.9" cy="4.6" r="1.4" fill="#93bb55"/><circle cx="-6.2" cy="-2.8" r="1.3" fill="#5a8a2a"/><circle cx="-4.3" cy="1.0" r="1.3" fill="#749f3b"/><circle cx="-1.1" cy="1.1" r="0.9" fill="#5a8a2a"/><circle cx="2.1" cy="4.8" r="0.7" fill="#5a8a2a"/><circle cx="-4.4" cy="3.2" r="1.2" fill="#749f3b"/><circle cx="-6.7" cy="2.3" r="1.1" fill="#749f3b"/><circle cx="1.2" cy="4.2" r="0.7" fill="#93bb55"/><circle cx="-2.4" cy="2.8" r="0.6" fill="#5a8a2a"/><circle cx="-0.3" cy="-5.1" r="1.1" fill="#5a8a2a"/><circle cx="-0.5" cy="4.2" r="0.7" fill="#93bb55"/><circle cx="2.3" cy="2.6" r="1.3" fill="#82ad46"/><circle cx="4.0" cy="0.5" r="0.9" fill="#82ad46"/><circle cx="2.7" cy="-3.5" r="0.8" fill="#4e7d25"/><circle cx="-1.9" cy="-3.4" r="1.1" fill="#749f3b"/><circle cx="2.7" cy="0.7" r="1.1" fill="#82ad46"/><circle cx="1.2" cy="4.4" r="1.0" fill="#5a8a2a"/><circle cx="-5.2" cy="-0.6" r="0.9" fill="#749f3b"/><circle cx="-1.4" cy="-2.4" r="0.8" fill="#93bb55"/></symbol>
<symbol id="tE" overflow="visible"><circle r="8.2" fill="#5a9f40"/><circle cx="7.4" cy="0.1" r="1.6" fill="#549a3a"/><circle cx="6.9" cy="2.7" r="1.8" fill="#549a3a"/><circle cx="5.6" cy="4.8" r="1.6" fill="#549a3a"/><circle cx="3.3" cy="6.6" r="1.8" fill="#68ac4b"/><circle cx="-0.1" cy="7.4" r="1.8" fill="#7fbd5d"/><circle cx="-3.0" cy="6.7" r="1.4" fill="#549a3a"/><circle cx="-5.3" cy="5.2" r="1.6" fill="#72b553"/><circle cx="-7.1" cy="2.2" r="1.8" fill="#549a3a"/><circle cx="-7.4" cy="-0.4" r="1.5" fill="#68ac4b"/><circle cx="-7.0" cy="-2.3" r="1.6" fill="#68ac4b"/><circle cx="-5.4" cy="-5.1" r="1.6" fill="#68ac4b"/><circle cx="-2.6" cy="-6.9" r="1.5" fill="#68ac4b"/><circle cx="-0.4" cy="-7.4" r="1.8" fill="#7fbd5d"/><circle cx="3.1" cy="-6.7" r="1.5" fill="#72b553"/><circle cx="5.5" cy="-5.0" r="1.9" fill="#549a3a"/><circle cx="6.8" cy="-2.9" r="1.5" fill="#7fbd5d"/><circle cx="-0.3" cy="-1.0" r="0.9" fill="#7fbd5d"/><circle cx="5.7" cy="-3.6" r="0.8" fill="#68ac4b"/><circle cx="-5.4" cy="0.2" r="1.0" fill="#7fbd5d"/><circle cx="1.4" cy="-1.3" r="0.6" fill="#7fbd5d"/><circle cx="4.2" cy="-3.4" r="0.8" fill="#549a3a"/><circle cx="-2.8" cy="-3.4" r="0.9" fill="#7fbd5d"/><circle cx="5.9" cy="1.2" r="0.8" fill="#72b553"/><circle cx="-3.9" cy="-4.0" r="0.9" fill="#68ac4b"/><circle cx="1.7" cy="0.7" r="1.0" fill="#68ac4b"/><circle cx="-5.0" cy="4.6" r="0.6" fill="#549a3a"/><circle cx="-1.5" cy="-3.4" r="1.0" fill="#68ac4b"/><circle cx="2.7" cy="-0.4" r="0.8" fill="#549a3a"/><circle cx="-0.2" cy="3.3" r="1.0" fill="#4c8f35"/><circle cx="0.4" cy="-0.1" r="1.0" fill="#4c8f35"/><circle cx="5.7" cy="3.1" r="1.3" fill="#7fbd5d"/><circle cx="-0.2" cy="2.3" r="0.6" fill="#549a3a"/><circle cx="-2.0" cy="-5.5" r="1.4" fill="#549a3a"/><circle cx="3.0" cy="4.7" r="1.0" fill="#4c8f35"/><circle cx="-1.2" cy="4.4" r="0.9" fill="#4c8f35"/><circle cx="-5.7" cy="0.1" r="0.9" fill="#549a3a"/><circle cx="5.3" cy="-3.0" r="1.3" fill="#72b553"/><circle cx="2.8" cy="-6.1" r="0.8" fill="#68ac4b"/><circle cx="-5.8" cy="-0.5" r="0.6" fill="#4c8f35"/><circle cx="4.4" cy="-4.9" r="0.6" fill="#7fbd5d"/><circle cx="-4.9" cy="3.7" r="1.2" fill="#7fbd5d"/><circle cx="-0.8" cy="-3.5" r="1.2" fill="#7fbd5d"/><circle cx="2.7" cy="6.0" r="0.8" fill="#4c8f35"/><circle cx="2.5" cy="-4.7" r="0.9" fill="#549a3a"/><circle cx="-4.6" cy="-4.5" r="1.2" fill="#549a3a"/><circle cx="1.7" cy="5.3" r="0.8" fill="#549a3a"/><circle cx="4.8" cy="-0.8" r="1.2" fill="#549a3a"/><circle cx="-0.4" cy="3.7" r="0.8" fill="#68ac4b"/><circle cx="-4.4" cy="3.8" r="0.7" fill="#549a3a"/><circle cx="-0.6" cy="-2.4" r="0.6" fill="#7fbd5d"/><circle cx="-3.2" cy="4.1" r="1.2" fill="#68ac4b"/><circle cx="-0.6" cy="1.0" r="1.0" fill="#68ac4b"/><circle cx="0.9" cy="1.6" r="1.0" fill="#7fbd5d"/><circle cx="1.0" cy="6.0" r="0.9" fill="#549a3a"/><circle cx="4.4" cy="-0.5" r="1.2" fill="#4c8f35"/><circle cx="-1.3" cy="6.5" r="1.0" fill="#72b553"/><circle cx="-6.3" cy="-2.3" r="1.3" fill="#68ac4b"/><circle cx="2.9" cy="2.8" r="0.6" fill="#4c8f35"/><circle cx="-3.4" cy="-1.6" r="0.9" fill="#7fbd5d"/><circle cx="0.7" cy="4.9" r="0.9" fill="#7fbd5d"/><circle cx="-2.6" cy="-1.0" r="0.6" fill="#7fbd5d"/><circle cx="-0.2" cy="-0.4" r="0.9" fill="#549a3a"/><circle cx="3.2" cy="-0.1" r="1.3" fill="#68ac4b"/><circle cx="4.1" cy="0.8" r="1.0" fill="#4c8f35"/><circle cx="4.9" cy="1.9" r="1.1" fill="#4c8f35"/><circle cx="-0.0" cy="3.1" r="0.8" fill="#549a3a"/><circle cx="4.7" cy="-0.2" r="1.3" fill="#72b553"/><circle cx="0.5" cy="1.0" r="0.7" fill="#72b553"/><circle cx="-1.7" cy="-3.3" r="0.6" fill="#4c8f35"/><circle cx="-1.9" cy="4.7" r="0.6" fill="#549a3a"/><circle cx="3.9" cy="1.7" r="1.2" fill="#7fbd5d"/><circle cx="2.3" cy="-5.9" r="1.2" fill="#68ac4b"/><circle cx="-1.8" cy="4.8" r="1.1" fill="#72b553"/><circle cx="4.5" cy="-1.9" r="1.3" fill="#68ac4b"/><circle cx="-0.0" cy="6.8" r="0.6" fill="#4c8f35"/><circle cx="2.6" cy="3.1" r="1.2" fill="#4c8f35"/><circle cx="-3.5" cy="-5.3" r="0.9" fill="#68ac4b"/><circle cx="-2.3" cy="3.0" r="1.3" fill="#7fbd5d"/><circle cx="-3.0" cy="-2.0" r="0.8" fill="#549a3a"/><circle cx="1.5" cy="5.9" r="1.0" fill="#549a3a"/><circle cx="1.0" cy="2.1" r="0.7" fill="#7fbd5d"/><circle cx="0.4" cy="1.0" r="0.9" fill="#72b553"/><circle cx="-3.3" cy="2.3" r="1.0" fill="#549a3a"/><circle cx="2.9" cy="0.4" r="0.7" fill="#4c8f35"/><circle cx="5.5" cy="4.4" r="0.9" fill="#549a3a"/><circle cx="-6.3" cy="0.0" r="1.3" fill="#7fbd5d"/><circle cx="4.0" cy="1.9" r="1.3" fill="#549a3a"/><circle cx="0.9" cy="-5.1" r="0.6" fill="#68ac4b"/><circle cx="1.4" cy="-0.9" r="1.1" fill="#7fbd5d"/><circle cx="5.0" cy="-4.3" r="1.1" fill="#4c8f35"/><circle cx="6.7" cy="-1.3" r="0.7" fill="#68ac4b"/></symbol>
  </defs>
  <rect x="0" y="0" width="608" height="374.6" fill="#9ccf9a"/>
  <rect x="0" y="0" width="608" height="374.6" fill="url(#grass)"/>
  <!-- watermark -->
  <text x="26" y="115" font-family="Liberation Sans" font-weight="bold" font-style="italic" font-size="38" fill="#8cc68b" stroke="#8cc68b" stroke-width="1.6" textLength="561" lengthAdjust="spacingAndGlyphs">SEOUL RUNNERS FESTIVAL</text>
  <!-- road -->
  <rect x="0" y="35" width="608" height="38" fill="#fcf2e8"/>
  <!-- crosswalks -->
  <g fill="#ffffff">
    <rect x="66" y="35.4" width="25.3" height="4.6"/>
    <rect x="66" y="41.9" width="25.3" height="4.6"/>
    <rect x="66" y="48.4" width="25.3" height="4.6"/>
    <rect x="66" y="54.9" width="25.3" height="4.6"/>
    <rect x="66" y="61.4" width="25.3" height="4.6"/>
    <rect x="66" y="67.9" width="25.3" height="4.6"/>
    <rect x="264" y="35.4" width="26" height="4.6"/>
    <rect x="264" y="41.9" width="26" height="4.6"/>
    <rect x="264" y="48.4" width="26" height="4.6"/>
    <rect x="264" y="54.9" width="26" height="4.6"/>
    <rect x="264" y="61.4" width="26" height="4.6"/>
    <rect x="264" y="67.9" width="26" height="4.6"/>
  </g>
  <!-- vertical path -->
  <rect x="388" y="72" width="42" height="68" fill="#fcf2e8"/>
  <!-- plaza -->
  <path d="M32 139H554V329.5H32V278H0V190.5H32Z" fill="#fcf2e8"/>
  <circle cx="545" cy="234" r="42.5" fill="#fcf2e8"/>
  <circle cx="544" cy="234" r="27" fill="#e3e0da"/>

  <!-- airplane -->
  <g transform="translate(3,5)" fill="#eee2d1">
    <path d="M450.5 208.3L452.5 204.6L456 202.4L480 187.5L500 177L505.6 173.8L510.2 173.1L518.2 180.3L516.9 182L508.1 177.8L500 184.1L485.6 194.5L473.7 202.7L458.9 209.2L452 210.3Z"/>
    <path d="M485.2 195L505.5 211L502 213.6L487.3 211L486.5 208L480.4 208.4L479.1 204.5L473.5 202.7Z"/>
  </g>
  <path d="M480 188L475.9 160.5L469.8 162.7L468.9 175.1L466.2 175.8L466 181L467.5 181.8L466 183L466 185.5L468.3 186.5L468.5 197Z" fill="#d9d9d9"/>
  <path d="M485.2 194.5L505.5 211L502 213.6L487.3 211L486.5 208L480.4 208.4L479.1 204.5L473.5 202.7Z" fill="#ffffff"/>
  <path d="M450.5 208.3L452.5 204.6L456 202.4L480 187.5L500 177L505.6 173.8L510.2 173.1L518.2 180.3L516.9 182L508.1 177.8L500 184.1L485.6 194.5L473.7 202.7L458.9 209.2L452 210.3Z" fill="#ffffff"/>
  <path d="M450.5 208.3L452.5 204.6L456 202.4L480 187.5L500 177L505.6 173.8L510.2 173.1L509.8 174.2L500 180L480 192.3L470 198.5L454 208.6Z" fill="#d9d9d9"/>
  <path d="M505.4 174.8L505.6 164.3L507.7 163.5L510.2 173.5Z" fill="#d9d9d9"/>
  <g stroke="#4a4a4a" stroke-width="1.3" stroke-linecap="butt" fill="none">
    <path d="M469.6 169.8L476.5 165.8M469.6 172.9L476.5 168.9"/>
    <path d="M491.6 210.1L498.6 205.8M494.2 211.4L501.6 207.5"/>
    <path d="M457 203.6Q452.3 206.3 456.3 209.4" stroke-width="1.4"/>
  </g>

  <circle cx="41.0" cy="140.0" r="8.8" fill="#dcd8dc"/>
<circle cx="63.5" cy="140.0" r="8.8" fill="#dcd8dc"/>
<circle cx="87.5" cy="140.0" r="8.8" fill="#dcd8dc"/>
<circle cx="112.5" cy="140.0" r="8.8" fill="#dcd8dc"/>
<circle cx="137.5" cy="140.0" r="8.8" fill="#dcd8dc"/>
<circle cx="164.0" cy="140.0" r="8.8" fill="#dcd8dc"/>
<circle cx="186.7" cy="140.0" r="8.8" fill="#dcd8dc"/>
<circle cx="211.5" cy="140.0" r="8.8" fill="#dcd8dc"/>
<circle cx="236.0" cy="140.0" r="8.8" fill="#dcd8dc"/>
<circle cx="260.5" cy="140.0" r="8.8" fill="#dcd8dc"/>
<circle cx="285.5" cy="140.0" r="8.8" fill="#dcd8dc"/>
<circle cx="309.5" cy="140.0" r="8.8" fill="#dcd8dc"/>
<circle cx="333.0" cy="140.0" r="8.8" fill="#dcd8dc"/>
<circle cx="357.5" cy="140.0" r="8.8" fill="#dcd8dc"/>
<circle cx="381.5" cy="140.0" r="8.8" fill="#dcd8dc"/>
<circle cx="446.5" cy="140.0" r="8.8" fill="#dcd8dc"/>
<circle cx="468.5" cy="140.0" r="8.8" fill="#dcd8dc"/>
<circle cx="494.5" cy="140.0" r="8.8" fill="#dcd8dc"/>
<circle cx="518.5" cy="140.0" r="8.8" fill="#dcd8dc"/>
<circle cx="543.0" cy="140.0" r="8.8" fill="#dcd8dc"/>
<use href="#tA" transform="translate(39.5,138.4) rotate(270)"/>
<use href="#tB" transform="translate(62,138.4) rotate(270)"/>
<use href="#tC" transform="translate(86,138.4) rotate(270)"/>
<use href="#tD" transform="translate(111,138.4) rotate(270)"/>
<use href="#tE" transform="translate(136,138.4) rotate(90)"/>
<use href="#tA" transform="translate(162.5,138.4) rotate(270)"/>
<use href="#tB" transform="translate(185.2,138.4) rotate(0)"/>
<use href="#tC" transform="translate(210,138.4) rotate(0)"/>
<use href="#tD" transform="translate(234.5,138.4) rotate(270)"/>
<use href="#tE" transform="translate(259,138.4) rotate(270)"/>
<use href="#tA" transform="translate(284,138.4) rotate(180)"/>
<use href="#tB" transform="translate(308,138.4) rotate(0)"/>
<use href="#tC" transform="translate(331.5,138.4) rotate(0)"/>
<use href="#tD" transform="translate(356,138.4) rotate(180)"/>
<use href="#tE" transform="translate(380,138.4) rotate(90)"/>
<use href="#tA" transform="translate(445,138.4) rotate(270)"/>
<use href="#tB" transform="translate(467,138.4) rotate(180)"/>
<use href="#tC" transform="translate(493,138.4) rotate(180)"/>
<use href="#tD" transform="translate(517,138.4) rotate(180)"/>
<use href="#tE" transform="translate(541.5,138.4) rotate(90)"/>
<circle cx="38.2" cy="330.6" r="8.8" fill="#dcd8dc"/>
<circle cx="60.8" cy="330.6" r="8.8" fill="#dcd8dc"/>
<circle cx="86.0" cy="330.6" r="8.8" fill="#dcd8dc"/>
<circle cx="110.2" cy="330.6" r="8.8" fill="#dcd8dc"/>
<circle cx="134.8" cy="330.6" r="8.8" fill="#dcd8dc"/>
<circle cx="161.5" cy="330.6" r="8.8" fill="#dcd8dc"/>
<circle cx="184.0" cy="330.6" r="8.8" fill="#dcd8dc"/>
<circle cx="209.0" cy="330.6" r="8.8" fill="#dcd8dc"/>
<circle cx="233.0" cy="330.6" r="8.8" fill="#dcd8dc"/>
<circle cx="257.2" cy="330.6" r="8.8" fill="#dcd8dc"/>
<circle cx="282.2" cy="330.6" r="8.8" fill="#dcd8dc"/>
<circle cx="306.5" cy="330.6" r="8.8" fill="#dcd8dc"/>
<circle cx="330.5" cy="330.6" r="8.8" fill="#dcd8dc"/>
<circle cx="354.2" cy="330.6" r="8.8" fill="#dcd8dc"/>
<circle cx="379.2" cy="330.6" r="8.8" fill="#dcd8dc"/>
<circle cx="403.0" cy="330.6" r="8.8" fill="#dcd8dc"/>
<circle cx="425.0" cy="330.6" r="8.8" fill="#dcd8dc"/>
<circle cx="449.2" cy="330.6" r="8.8" fill="#dcd8dc"/>
<circle cx="473.8" cy="330.6" r="8.8" fill="#dcd8dc"/>
<circle cx="498.0" cy="330.6" r="8.8" fill="#dcd8dc"/>
<circle cx="522.0" cy="330.6" r="8.8" fill="#dcd8dc"/>
<circle cx="546.2" cy="330.6" r="8.8" fill="#dcd8dc"/>
<use href="#tA" transform="translate(36.75,329.0) rotate(270)"/>
<use href="#tB" transform="translate(59.25,329.0) rotate(270)"/>
<use href="#tC" transform="translate(84.5,329.0) rotate(0)"/>
<use href="#tD" transform="translate(108.75,329.0) rotate(90)"/>
<use href="#tE" transform="translate(133.25,329.0) rotate(270)"/>
<use href="#tA" transform="translate(160,329.0) rotate(0)"/>
<use href="#tB" transform="translate(182.5,329.0) rotate(90)"/>
<use href="#tC" transform="translate(207.5,329.0) rotate(90)"/>
<use href="#tD" transform="translate(231.5,329.0) rotate(90)"/>
<use href="#tE" transform="translate(255.75,329.0) rotate(0)"/>
<use href="#tA" transform="translate(280.75,329.0) rotate(0)"/>
<use href="#tB" transform="translate(305,329.0) rotate(180)"/>
<use href="#tC" transform="translate(329,329.0) rotate(180)"/>
<use href="#tD" transform="translate(352.75,329.0) rotate(0)"/>
<use href="#tE" transform="translate(377.75,329.0) rotate(90)"/>
<use href="#tA" transform="translate(401.5,329.0) rotate(0)"/>
<use href="#tB" transform="translate(423.5,329.0) rotate(180)"/>
<use href="#tC" transform="translate(447.75,329.0) rotate(180)"/>
<use href="#tD" transform="translate(472.25,329.0) rotate(180)"/>
<use href="#tE" transform="translate(496.5,329.0) rotate(270)"/>
<use href="#tA" transform="translate(520.5,329.0) rotate(90)"/>
<use href="#tC" transform="translate(544.75,329.0) rotate(0)"/>

  <!-- arrows -->
  <g fill="none" stroke-width="3.6" stroke-linecap="round" stroke-linejoin="miter">
    <path d="M401.4 148.5V47.9H531" stroke="#1d9c7c"/>
    <path d="M415.1 148.5V61.5H531" stroke="#d8435f"/>
  </g>
  <path d="M529 42.8L539 47.8L529 52.8Z" fill="#1d9c7c"/>
  <path d="M529 56.6L538.6 61.4L529 66.2Z" fill="#d8435f"/>
  <rect x="474.1" y="32.3" width="19" height="44.2" fill="#bababa" opacity="0.88"/>
  <text transform="translate(479.6,38) rotate(90)" font-family="Liberation Sans" font-weight="bold" font-size="12.5" fill="#fff" stroke="#fff" stroke-width="0.4" textLength="31.2" lengthAdjust="spacingAndGlyphs">ARCH</text>

  <!-- callout tails -->
  <path d="M371 107.5L399.8 119.3L387.5 106Z" fill="#1d9c7c"/>
  <path d="M430 108Q424 114 417.4 118.75L441 108Z" fill="#d8435f"/>
  <rect x="324" y="89" width="71" height="19.2" rx="9.6" fill="#1d9c7c"/>
  <rect x="422.3" y="89" width="70" height="19.4" rx="9.7" fill="#d8435f"/>
</svg>

<div class="box gray" style="left:64.6px;top:154.75px;width:76.4px;height:30.9px;"></div>
<div class="box blue" style="left:145.25px;top:154.75px;width:229.35px;height:31.1px;"></div>
<div class="box" style="left:36px;top:212px;width:34px;height:44.5px;background:#5ba4ad;"></div>
<div class="box" style="left:196.6px;top:215.6px;width:176.5px;height:28.4px;background:#eaae33;"></div>
<div class="box gray" style="left:138px;top:281px;width:51px;height:31.5px;"></div>
<div class="box blue" style="left:193px;top:281px;width:82.4px;height:31.5px;"></div>
<div class="box" style="left:279px;top:281px;width:94px;height:31.5px;background:#e06a2c;"></div>
<div class="box gray" style="left:406px;top:281px;width:138px;height:31.5px;"></div>

<div class="t" style="left:3.40px;top:155.1px;width:200px;font-weight:normal;-webkit-text-stroke:0.5px #fff;transform:scaleX(0.8)">운영부스</div>
<div class="t" style="left:3.40px;top:169.1px;width:200px;font-weight:normal;-webkit-text-stroke:0.5px #fff;transform:scaleX(0.8)">(행사운영)</div>
<div class="t" style="left:157.85px;top:163.35px;width:200px;transform:scaleX(0.82)">러닝 브랜드 페어</div>
<div class="t" style="left:-48.20px;top:227.1px;width:200px;font-weight:normal;-webkit-text-stroke:0.4px #fff;transform:scaleX(0.85)">무대</div>
<div class="t" style="left:166.1px;top:223px;width:200px;font-size:11.6px;-webkit-text-stroke:0.45px #fff;">100m</div>
<div class="t" style="left:201.85px;top:223px;width:200px;font-weight:normal;-webkit-text-stroke:0.5px #fff;transform:scaleX(0.82)">스프린트</div>
<div class="t" style="left:63.60px;top:282.9px;width:200px;font-weight:normal;-webkit-text-stroke:0.5px #fff;transform:scaleX(0.8)">운영부스</div>
<div class="t" style="left:63.75px;top:297.4px;width:200px;font-size:9.5px;font-weight:normal;-webkit-text-stroke:0.15px #fff;transform:scaleX(0.72)">(이벤트프로그램)</div>
<div class="t" style="left:133.90px;top:289.25px;width:200px;transform:scaleX(0.82)">러닝 브랜드 페어</div>
<div class="t" style="left:223.65px;top:289px;width:200px;transform:scaleX(0.82)">러닝 케어 랩</div>
<div class="t" style="left:376.6px;top:289px;width:200px;font-weight:normal;-webkit-text-stroke:0.5px #fff;transform:scaleX(0.8)">운영부스 (크루/오픈런)</div>
<div class="t" style="left:259.45px;top:91.1px;width:200px;transform:scaleX(0.82)">크루 랭킹전</div>
<div class="t" style="left:357.15px;top:90.6px;width:200px;transform:scaleX(0.82)">오픈런 코스</div>

<div class="a" style="left:0;top:385px;width:608px;text-align:center;font-size:13px;line-height:16px;color:#3a3a3a;transform:scaleX(0.925);-webkit-text-stroke:0.2px #3a3a3a;">서울 러너스 페스티벌 행사장</div>
</body></html>
